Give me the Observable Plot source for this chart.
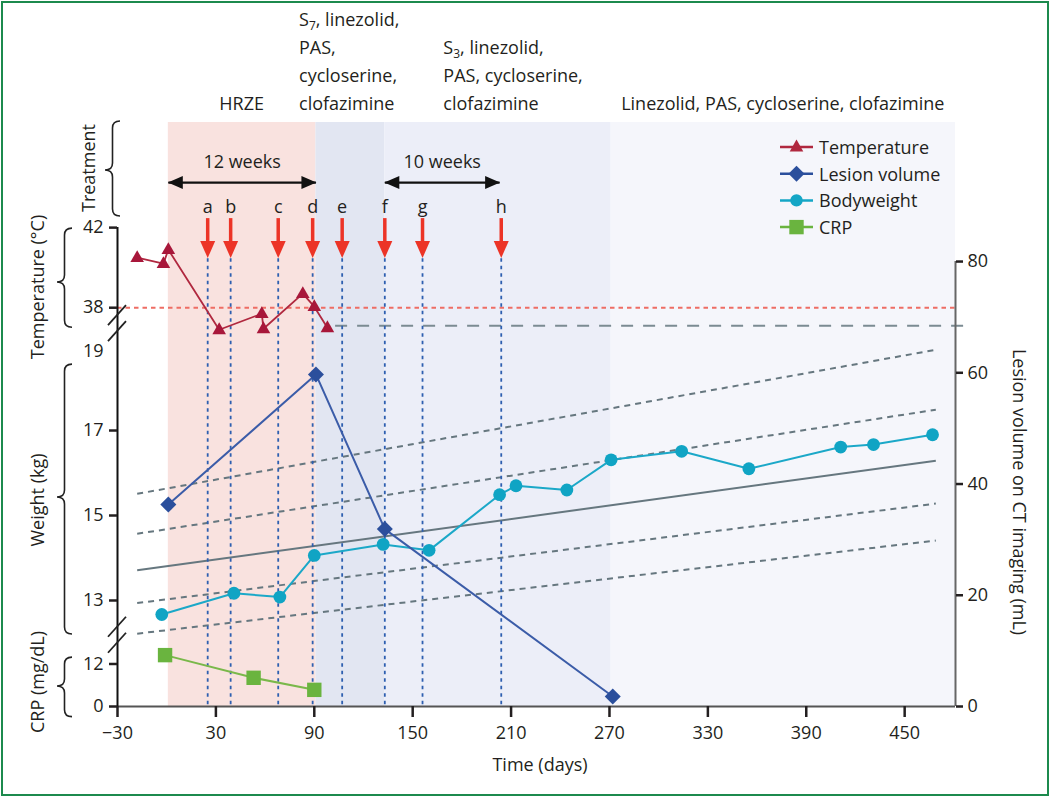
<!DOCTYPE html>
<html>
<head>
<meta charset="utf-8">
<script src="https://cdn.jsdelivr.net/npm/d3@7"></script>
<script src="https://cdn.jsdelivr.net/npm/@observablehq/plot@0.6"></script>
<style>
  html,body{margin:0;padding:0;background:#fff;}
  #wrap{position:relative;width:1050px;height:797px;overflow:hidden;}
  #border{position:absolute;left:1px;top:1px;width:1044px;height:791px;border:2px solid #1c8a4d;pointer-events:none;}
  svg{display:block;}
</style>
</head>
<body>
<div id="wrap"><div id="border"></div></div>
<script>
// ---------------- data ----------------
const xTicks = [-30, 30, 90, 150, 210, 270, 330, 390, 450];
const lesionTicks = [0, 20, 40, 60, 80];
const tempTicks = [42, 38];
const weightTicks = [17, 15, 13];
const weightBreakLabel = [19];
const crpTicks = [12, 0];

const tempDays   = [-18, -2, 1, 32, 58, 59, 83, 90, 98];
const tempValues = [40.5, 40.2, 40.9, 36.9, 37.7, 36.95, 38.7, 38.05, 37.0];

const lesionDays   = [1, 91, 133, 272];
const lesionValues = [36.3, 59.7, 31.9, 1.8];

const weightDays   = [-3, 41, 69, 90, 132, 160, 203, 213, 244, 271, 314, 355, 411, 431, 467];
const weightValues = [12.67, 13.17, 13.08, 14.06, 14.32, 14.18, 15.49, 15.7, 15.6, 16.31, 16.51, 16.1, 16.61, 16.67, 16.9];

const crpDays   = [-1, 53, 90];
const crpValues = [14.5, 8.1, 4.7];

const growthStartDay = -18, growthEndDay = 469;
const growthStart  = [15.51, 14.57, 13.71, 12.94, 12.22];
const growthEnd    = [18.9, 17.49, 16.29, 15.28, 14.41];
const growthDashed = [true, true, false, true, true];

const feverRef = 38;
const normalTemp = 37.1, normalTempFrom = 103;

const eventLabels = ["a", "b", "c", "d", "e", "f", "g", "h"];
const eventDays   = [25, 39, 68, 89, 107, 133, 156, 204];

const phaseStarts = [1, 91, 133, 271];
const phaseEnds   = [91, 133, 271, 481];
const phaseColors = ["#f9e2df", "#e2e6f2", "#eceef8", "#f5f6fb"];
const phaseTexts  = [
  ["HRZE"],
  ["S_7, linezolid,", "PAS,", "cycloserine,", "clofazimine"],
  ["S_3, linezolid,", "PAS, cycloserine,", "clofazimine"],
  ["Linezolid, PAS, cycloserine, clofazimine"]
];
const phaseTextDay    = [46, 81, 169, 376];
const phaseTextAnchor = ["middle", "start", "start", "middle"];

const durationLabels = ["12 weeks", "10 weeks"];
const durationStart  = [1, 133];
const durationEnd    = [91, 203];

const legendNames  = ["Temperature", "Lesion volume", "Bodyweight", "CRP"];
const legendColors = ["#b0283f", "#2b4f9c", "#14a6c6", "#6ab43f"];

// ---------------- layout ----------------
const FONT = "'Open Sans', 'DejaVu Sans', sans-serif";
const FS = 18;
const TXT = "#231f20";
// each left-axis quantity mapped onto the shared (lesion mL) vertical scale
const tY = t => 71.7 + (t - 38) * 3.6;
const wY = w => 19.06 + (w - 13) * 7.64;
const cY = c => c * 0.637;

const temp   = tempDays.map((d, i) => ({day: d, v: tempValues[i]}));
const lesion = lesionDays.map((d, i) => ({day: d, v: lesionValues[i]}));
const weight = weightDays.map((d, i) => ({day: d, v: weightValues[i]}));
const crp    = crpDays.map((d, i) => ({day: d, v: crpValues[i]}));
const growth = growthStart.map((s, i) => ({s, e: growthEnd[i], dashed: growthDashed[i]}));
const events = eventDays.map((d, i) => ({day: d, label: eventLabels[i]}));
const phases = phaseStarts.map((s, i) => ({s, e: phaseEnds[i], fill: phaseColors[i]}));
const durations = durationLabels.map((l, i) => ({label: l, s: durationStart[i], e: durationEnd[i]}));

function shape(points) {
  return {draw(ctx, size) {
    const k = Math.sqrt(size / Math.PI);
    ctx.moveTo(points[0][0] * k, points[0][1] * k);
    for (const p of points.slice(1)) ctx.lineTo(p[0] * k, p[1] * k);
    ctx.closePath();
  }};
}
const triUp      = shape([[0, -7.4], [6.8, 4.4], [-6.8, 4.4]]);
const diamond    = shape([[0, -8], [8, 0], [0, 8], [-8, 0]]);
const squareSym  = shape([[-7.2, -7.2], [7.2, -7.2], [7.2, 7.2], [-7.2, 7.2]]);
const arrowDown  = shape([[0, 9], [-7.5, -8], [7.5, -8]]);
const arrowLeft  = shape([[-7.5, 0], [7.5, -6.5], [7.5, 6.5]]);
const arrowRight = shape([[7.5, 0], [-7.5, -6.5], [-7.5, 6.5]]);

const leftTicks = [
  ...tempTicks.map(t => ({y: tY(t), label: String(t)})),
  ...weightTicks.map(t => ({y: wY(t), label: String(t)})),
  ...crpTicks.map(t => ({y: cY(t), label: String(t)}))
];
const leftLabel = d => (leftTicks.find(t => Math.abs(t.y - d) < 1e-6) || {label: ""}).label;
const fmtX = d => d < 0 ? "\u2212" + Math.abs(d) : String(d);

const weeksY = 94.2, weeksTextY = 97.8;

const chart = Plot.plot({
  width: 1050, height: 797,
  marginLeft: 117, marginRight: 95, marginTop: 122, marginBottom: 91,
  x: {domain: [-30, 481]},
  y: {domain: [0, 105]},
  style: {fontFamily: FONT, fontSize: FS + "px", color: TXT, background: "transparent", overflow: "visible"},
  marks: [
    Plot.rect(phases, {x1: "s", x2: "e", fill: "fill"}),
    // reference lines
    Plot.ruleY([feverRef], {y: tY, stroke: "#ee6d64", strokeWidth: 2, strokeDasharray: "4.5,4"}),
    Plot.ruleY([normalTemp], {y: tY, x1: normalTempFrom, x2: 486, stroke: "#7b8b92", strokeWidth: 2, strokeDasharray: "12,10"}),
    Plot.link(growth.filter(g => g.dashed), {x1: () => growthStartDay, x2: () => growthEndDay, y1: g => wY(g.s), y2: g => wY(g.e), stroke: "#66777f", strokeWidth: 2, strokeDasharray: "6,5"}),
    Plot.link(growth.filter(g => !g.dashed), {x1: () => growthStartDay, x2: () => growthEndDay, y1: g => wY(g.s), y2: g => wY(g.e), stroke: "#66777f", strokeWidth: 2}),
    // event markers
    Plot.ruleX(events, {x: "day", y1: tY(40.45), y2: 0, stroke: "#2e5fb0", strokeWidth: 1.8, strokeDasharray: "3.5,4"}),
    Plot.ruleX(events, {x: "day", y1: tY(42.45), y2: tY(41.2), stroke: "#ec3427", strokeWidth: 3.5}),
    Plot.dot(events, {x: "day", y: tY(40.93), r: 1, symbol: arrowDown, fill: "#ec3427", stroke: null}),
    Plot.text(events, {x: "day", y: tY(43.0), text: "label", fill: TXT, fontSize: FS}),
    // durations
    Plot.link(durations, {x1: "s", x2: "e", y1: weeksY, y2: weeksY, stroke: "#111", strokeWidth: 2.2}),
    Plot.dot(durations, {x: "s", y: weeksY, r: 1, symbol: arrowLeft, fill: "#111", stroke: null, dx: 7}),
    Plot.dot(durations, {x: "e", y: weeksY, r: 1, symbol: arrowRight, fill: "#111", stroke: null, dx: -7}),
    Plot.text(durations, {x: d => (d.s + d.e) / 2, y: weeksTextY, text: "label", fill: TXT, fontSize: FS}),
    // axes
    Plot.ruleY([0], {stroke: "#555", strokeWidth: 2}),
    Plot.ruleX([-30], {y1: 0, y2: tY(42), stroke: "#111", strokeWidth: 2}),
    Plot.ruleX([481], {y1: 0, y2: 80, stroke: "#666", strokeWidth: 2}),
    Plot.axisX({ticks: xTicks, tickFormat: fmtX, tickSize: 11, tickPadding: 9, strokeWidth: 2.5, label: null, fill: TXT, fontSize: FS}),
    Plot.axisY({anchor: "left", ticks: leftTicks.map(t => t.y), tickFormat: leftLabel, tickSize: 8, tickPadding: 6, strokeWidth: 2.5, label: null, fill: TXT, fontSize: FS}),
    Plot.axisY({anchor: "left", ticks: weightBreakLabel.map(wY), tickFormat: () => String(weightBreakLabel[0]), tickSize: 0, tickPadding: 14, dy: 6, label: null, fill: TXT, fontSize: FS}),
    Plot.axisY({anchor: "right", ticks: lesionTicks, tickSize: 7, tickPadding: 5, strokeWidth: 2.5, label: null, fill: TXT, fontSize: FS}),
    // series
    Plot.line(temp, {x: "day", y: d => tY(d.v), stroke: "#b0283f", strokeWidth: 1.8}),
    Plot.dot(temp, {x: "day", y: d => tY(d.v), r: 1, symbol: triUp, fill: "#a8173a", stroke: null}),
    Plot.line(weight, {x: "day", y: d => wY(d.v), stroke: "#1ba8c8", strokeWidth: 2}),
    Plot.dot(weight, {x: "day", y: d => wY(d.v), r: 6.4, fill: "#10a4c4", stroke: null}),
    Plot.line(crp, {x: "day", y: d => cY(d.v), stroke: "#7ab84a", strokeWidth: 2}),
    Plot.dot(crp, {x: "day", y: d => cY(d.v), r: 1, symbol: squareSym, fill: "#6ab43f", stroke: null}),
    Plot.line(lesion, {x: "day", y: "v", stroke: "#3b5ca8", strokeWidth: 2}),
    Plot.dot(lesion, {x: "day", y: "v", r: 1, symbol: diamond, fill: "#2b4f9c", stroke: null})
  ]
});
document.getElementById("wrap").prepend(chart);

// ---------------- annotations ----------------
const svg = d3.select(chart);
const px = v => chart.scale("x").apply(v);
const py = v => chart.scale("y").apply(v);
const g = svg.append("g").attr("font-family", FONT).attr("font-size", FS).attr("fill", TXT);

// treatment labels
const lineGap = 28, lastBaseline = 110;
phaseTexts.forEach((lines, i) => {
  const t = g.append("text").attr("text-anchor", phaseTextAnchor[i]);
  lines.forEach((line, j) => {
    const y = lastBaseline - (lines.length - 1 - j) * lineGap;
    const parts = line.split(/_(\d)/);
    const ln = t.append("tspan").attr("x", px(phaseTextDay[i])).attr("y", y);
    parts.forEach((p, k) => {
      if (k % 2 === 1) ln.append("tspan").attr("font-size", 12).attr("dy", 4).text(p);
      else if (k > 0) ln.append("tspan").attr("dy", -4).text(p);
      else ln.append("tspan").text(p);
    });
  });
});

// braces
function brace(xt, xr, y1, y2, ym) {
  const xm = (xt + xr) / 2, r = 7;
  return `M${xr},${y1} Q${xm},${y1} ${xm},${y1 + r} L${xm},${ym - r} Q${xm},${ym} ${xt},${ym}` +
         ` Q${xm},${ym} ${xm},${ym + r} L${xm},${y2 - r} Q${xm},${y2} ${xr},${y2}`;
}
const braces = [
  [105, 120, 121, 216, 170],
  [57, 72, py(tY(42)) + 1, py(tY(37.0)), 282],
  [57, 72, py(wY(18.55)), py(wY(12.2)), 497],
  [57, 72, py(cY(13.8)), py(cY(-3)), 686]
];
braces.forEach(b => g.append("path").attr("d", brace(...b)).attr("fill", "none").attr("stroke", "#222").attr("stroke-width", 1.6));

// axis breaks
[py((tY(38) + wY(19)) / 2) - 3, py((wY(13) + cY(12)) / 2) + 3].forEach(yc => {
  [-8, 8].forEach(o => g.append("line")
    .attr("x1", px(-30) - 9).attr("y1", yc + o + 10)
    .attr("x2", px(-30) + 9).attr("y2", yc + o - 10)
    .attr("stroke", "#222").attr("stroke-width", 1.8));
});

// axis titles
const titles = [
  ["Treatment", 88, 168, -90],
  ["Temperature (\u00b0C)", 37, 287, -90],
  ["Weight (kg)", 37, 500, -90],
  ["CRP (mg/dL)", 37, 682, -90],
  ["Lesion volume on CT imaging (mL)", 1020, 492, 90]
];
titles.forEach(([s, x, y, r]) => g.append("text")
  .attr("transform", `translate(${x},${y}) rotate(${r})`)
  .attr("text-anchor", "middle").attr("dominant-baseline", "central").text(s));
g.append("text").attr("x", 540).attr("y", 771).attr("text-anchor", "middle").text("Time (days)");

// legend
const legSymbols = [triUp, diamond, null, squareSym];
legendNames.forEach((name, i) => {
  const y = 147 + i * 26.7;
  g.append("line").attr("x1", 780).attr("x2", 813).attr("y1", y).attr("y2", y)
    .attr("stroke", legendColors[i]).attr("stroke-width", 2.5);
  if (legSymbols[i]) {
    g.append("path").attr("transform", `translate(796.5,${y})`)
      .attr("d", d3.symbol(legSymbols[i], Math.PI)()).attr("fill", legendColors[i]);
  } else {
    g.append("circle").attr("cx", 796.5).attr("cy", y).attr("r", 6.2).attr("fill", legendColors[i]);
  }
  g.append("text").attr("x", 819).attr("y", y).attr("text-anchor", "start")
    .attr("dominant-baseline", "central").text(name);
});
</script>
</body>
</html>
